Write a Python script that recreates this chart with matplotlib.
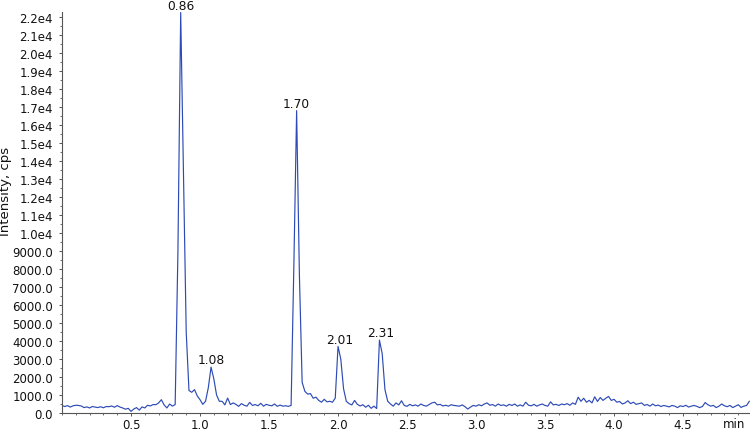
import numpy as np
import matplotlib
matplotlib.use("Agg")
import matplotlib.pyplot as plt
from matplotlib.ticker import MultipleLocator

# XIC trace, one reading every 0.02 min starting at 0.00 min (cps)
scan_step = 0.02
cps = [
    420, 360, 410, 330, 400, 430, 420, 390, 300, 340,       # 0.00-0.18
    280, 360, 330, 300, 350, 290, 360, 350, 390, 320,       # 0.20-0.38
    410, 330, 280, 210, 260, 90, 220, 300, 160, 340,        # 0.40-0.58
    280, 430, 390, 470, 460, 560, 740, 450, 280, 500,       # 0.60-0.78
    380, 470, 9000, 22250, 13500, 4500, 1250, 1150, 1300, 950,   # 0.80-0.98
    740, 480, 650, 1400, 2550, 1900, 1000, 650, 650, 450,   # 1.00-1.18
    830, 470, 560, 480, 370, 520, 430, 380, 590, 420,       # 1.20-1.38
    470, 400, 540, 380, 480, 430, 400, 500, 370, 440,       # 1.40-1.58
    380, 400, 370, 420, 8200, 16800, 7700, 1700, 1200, 1050,     # 1.60-1.78
    1080, 820, 880, 700, 600, 760, 620, 650, 600, 830,      # 1.80-1.98
    3700, 3000, 1350, 650, 520, 450, 700, 480, 390, 460,    # 2.00-2.18
    320, 430, 260, 380, 250, 4050, 3300, 1300, 650, 500,    # 2.20-2.38
    380, 560, 450, 680, 420, 370, 480, 400, 450, 380,       # 2.40-2.58
    500, 420, 380, 470, 560, 600, 450, 480, 390, 430,       # 2.60-2.78
    380, 460, 420, 400, 380, 450, 350, 220, 330, 420,       # 2.80-2.98
    380, 460, 400, 500, 560, 430, 470, 380, 500, 420,       # 3.00-3.18
    450, 380, 480, 420, 500, 380, 450, 380, 600, 430,       # 3.20-3.38
    400, 480, 380, 450, 500, 420, 380, 620, 450, 480,       # 3.40-3.58
    420, 500, 460, 520, 430, 560, 480, 880, 650, 820,       # 3.60-3.78
    600, 700, 560, 900, 640, 860, 700, 820, 920, 700,       # 3.80-3.98
    760, 600, 640, 500, 560, 680, 520, 600, 480, 520,       # 4.00-4.18
    560, 420, 470, 380, 500, 400, 440, 360, 420, 380,       # 4.20-4.38
    340, 420, 380, 300, 400, 360, 430, 330, 380, 420,       # 4.40-4.58
    370, 300, 360, 580, 460, 380, 420, 300, 380, 500,       # 4.60-4.78
    400, 350, 420, 300, 380, 460, 310, 380, 420, 650,       # 4.80-4.98
]
t = np.arange(len(cps)) * scan_step

peak_times = [0.86, 1.08, 1.70, 2.01, 2.31]
peak_labels = ["0.86", "1.08", "1.70", "2.01", "2.31"]

xtick_vals = [0.5, 1.0, 1.5, 2.0, 2.5, 3.0, 3.5, 4.0, 4.5]
xtick_labels = ["0.5", "1.0", "1.5", "2.0", "2.5", "3.0", "3.5", "4.0", "4.5"]
ytick_vals = [0, 1000, 2000, 3000, 4000, 5000, 6000, 7000, 8000, 9000, 10000,
              11000, 12000, 13000, 14000, 15000, 16000, 17000, 18000, 19000,
              20000, 21000, 22000]
ytick_labels = ["0.0", "1000.0", "2000.0", "3000.0", "4000.0", "5000.0",
                "6000.0", "7000.0", "8000.0", "9000.0", "1.0e4", "1.1e4",
                "1.2e4", "1.3e4", "1.4e4", "1.5e4", "1.6e4", "1.7e4", "1.8e4",
                "1.9e4", "2.0e4", "2.1e4", "2.2e4"]

fs = 8.5
plt.rcParams["font.family"] = "DejaVu Sans"
fig = plt.figure(figsize=(7.5, 4.31), dpi=100)
ax = fig.add_axes([62 / 750, 1 - 414 / 431, 688 / 750, 401 / 431])

ax.plot(t, cps, color="#2d4bb5", lw=0.85)

# retention time labels on top of each peak
cps_arr = np.array(cps)
for pt, lab in zip(peak_times, peak_labels):
    near = np.abs(t - pt) <= 0.015
    top = cps_arr[near].max()
    ax.annotate(lab, xy=(pt, top), xytext=(0, 0.5), textcoords="offset points",
                ha="center", va="bottom", fontsize=fs + 0.3, color="#111111",
                annotation_clip=False)

ax.set_xlim(0, 4.985)
ax.set_ylim(0, 22280)
ax.set_xticks(xtick_vals)
ax.set_xticklabels(xtick_labels)
ax.set_yticks(ytick_vals)
ax.set_yticklabels(ytick_labels)
ax.xaxis.set_minor_locator(MultipleLocator(0.1))
ax.yaxis.set_minor_locator(MultipleLocator(500))

for side in ["top", "right"]:
    ax.spines[side].set_visible(False)
for side in ["left", "bottom"]:
    ax.spines[side].set_color("#555555")
    ax.spines[side].set_linewidth(0.8)

ax.tick_params(which="major", length=2.5, width=0.7, color="#555555",
               labelsize=fs, labelcolor="#111111")
ax.tick_params(which="minor", length=1.6, width=0.6, color="#555555")
ax.tick_params(axis="y", which="major", pad=4)
ax.tick_params(axis="x", which="major", pad=0.8)

ax.set_ylabel("Intensity, cps", fontsize=9.5, color="#111111")
ax.yaxis.set_label_coords(-0.072, 0.556)

ax.annotate("min", xy=(4.87, 0), xycoords="data",
            xytext=(0, -2.6), textcoords="offset points",
            ha="center", va="top", fontsize=fs, color="#111111",
            annotation_clip=False)

fig.savefig("out.png", dpi=100)
